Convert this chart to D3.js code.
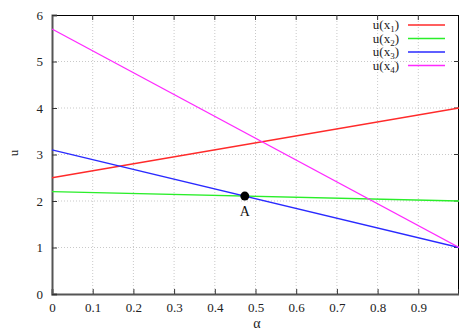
<!DOCTYPE html>
<html><head><meta charset="utf-8">
<script src="https://cdn.jsdelivr.net/npm/d3@7"></script>
<style>body{margin:0;background:#fff}svg{display:block}text{font-family:"Liberation Serif","DejaVu Serif",serif}</style>
</head><body><svg id="c" width="459" height="332"></svg>
<script>
const xTicks = [0,0.1,0.2,0.3,0.4,0.5,0.6,0.7,0.8,0.9];
const yTicks = [0,1,2,3,4,5,6];
const seriesNames = ["u(x1)","u(x2)","u(x3)","u(x4)"];
const seriesSubs = ["1","2","3","4"];
const seriesColors = ["#ff2a2a","#2aee2a","#2a2aff","#ff2aff"];
const alphaPts = [0,1];
const u1 = [2.5,4.0];
const u2 = [2.2,2.0];
const u3 = [3.1,1.0];
const u4 = [5.7,1.0];
const pointA = {a:0.4737, u:2.105, label:"A"};

const svg = d3.select("#c");
const L=52,R=459,T=15,B=294;
const x = d3.scaleLinear().domain([0,1]).range([L,R]);
const y = d3.scaleLinear().domain([0,6]).range([B,T]);
const FF = "'Liberation Serif', 'DejaVu Serif', serif";

// grid
const g = svg.append("g");
g.selectAll(".vx").data(xTicks.slice(1)).enter().append("line")
 .attr("x1",d=>x(d)).attr("x2",d=>x(d)).attr("y1",T).attr("y2",B)
 .attr("stroke","#bbb").attr("stroke-width",0.8).attr("stroke-dasharray","1,2");
g.selectAll(".hy").data(yTicks.slice(1,-1)).enter().append("line")
 .attr("x1",L).attr("x2",R).attr("y1",d=>y(d)).attr("y2",d=>y(d))
 .attr("stroke","#bbb").attr("stroke-width",0.8).attr("stroke-dasharray","1,2");

// top & right border
svg.append("line").attr("x1",L).attr("x2",R).attr("y1",T+0.5).attr("y2",T+0.5).attr("stroke","#000").attr("stroke-width",1);
svg.append("line").attr("x1",R-0.5).attr("x2",R-0.5).attr("y1",T).attr("y2",B).attr("stroke","#000").attr("stroke-width",1);

// axes
const xa = svg.append("g").attr("transform",`translate(0,${B})`)
 .call(d3.axisBottom(x).tickValues(xTicks).tickFormat(d=>d===0?"0":d3.format(".1f")(d)).tickSize(-5).tickPadding(9));
const ya = svg.append("g").attr("transform",`translate(${L},0)`)
 .call(d3.axisLeft(y).tickValues(yTicks).tickFormat(d3.format("d")).tickSize(-5).tickPadding(9));
[xa,ya].forEach(a=>{
  a.attr("font-family",FF);
  a.select(".domain").attr("stroke","#555").attr("stroke-width",2);
  a.selectAll(".tick line").attr("stroke","#333");
  a.selectAll("text").attr("font-size",13).attr("fill","#222").attr("font-family",FF);
});
// top & right ticks
svg.append("g").selectAll("line").data(xTicks.slice(1)).enter().append("line")
 .attr("x1",d=>x(d)).attr("x2",d=>x(d)).attr("y1",T).attr("y2",T+5).attr("stroke","#333");
svg.append("g").selectAll("line").data(yTicks.slice(1,-1)).enter().append("line")
 .attr("x1",R-5).attr("x2",R).attr("y1",d=>y(d)).attr("y2",d=>y(d)).attr("stroke","#333");

// lines
const data=[u1,u2,u3,u4];
const line = d3.line().x((d,i)=>x(alphaPts[i])).y(d=>y(d));
svg.append("g").selectAll("path").data(data).enter().append("path")
 .attr("d",line).attr("fill","none").attr("stroke",(d,i)=>seriesColors[i]).attr("stroke-width",1.3);

// legend
const lg = svg.append("g");
seriesNames.forEach((n,i)=>{
  const yy = 25 + i*13.5;
  const t = lg.append("text").attr("x",399).attr("y",yy+4).attr("text-anchor","end").attr("font-size",13).attr("fill","#222").attr("font-family",FF);
  t.append("tspan").text("u(x");
  t.append("tspan").text(seriesSubs[i]).attr("font-size",9).attr("dy",3);
  t.append("tspan").text(")").attr("dy",-3);
  lg.append("line").attr("x1",408).attr("x2",445).attr("y1",yy).attr("y2",yy).attr("stroke",seriesColors[i]).attr("stroke-width",1.3);
});

// point A
svg.append("circle").attr("cx",x(pointA.a)).attr("cy",y(pointA.u)).attr("r",4.5).attr("fill","#000");
svg.append("text").attr("x",x(pointA.a)).attr("y",y(pointA.u)+20).attr("text-anchor","middle").attr("font-size",14).attr("fill","#111").attr("font-family",FF).text(pointA.label);

// axis labels
svg.append("text").attr("x",257).attr("y",328).attr("text-anchor","middle").attr("font-size",14).attr("fill","#222").attr("font-family",FF).text("α");
svg.append("text").attr("transform","translate(18,153) rotate(-90)").attr("text-anchor","middle").attr("font-size",13).attr("fill","#222").attr("font-family",FF).text("u");
</script></body></html>
